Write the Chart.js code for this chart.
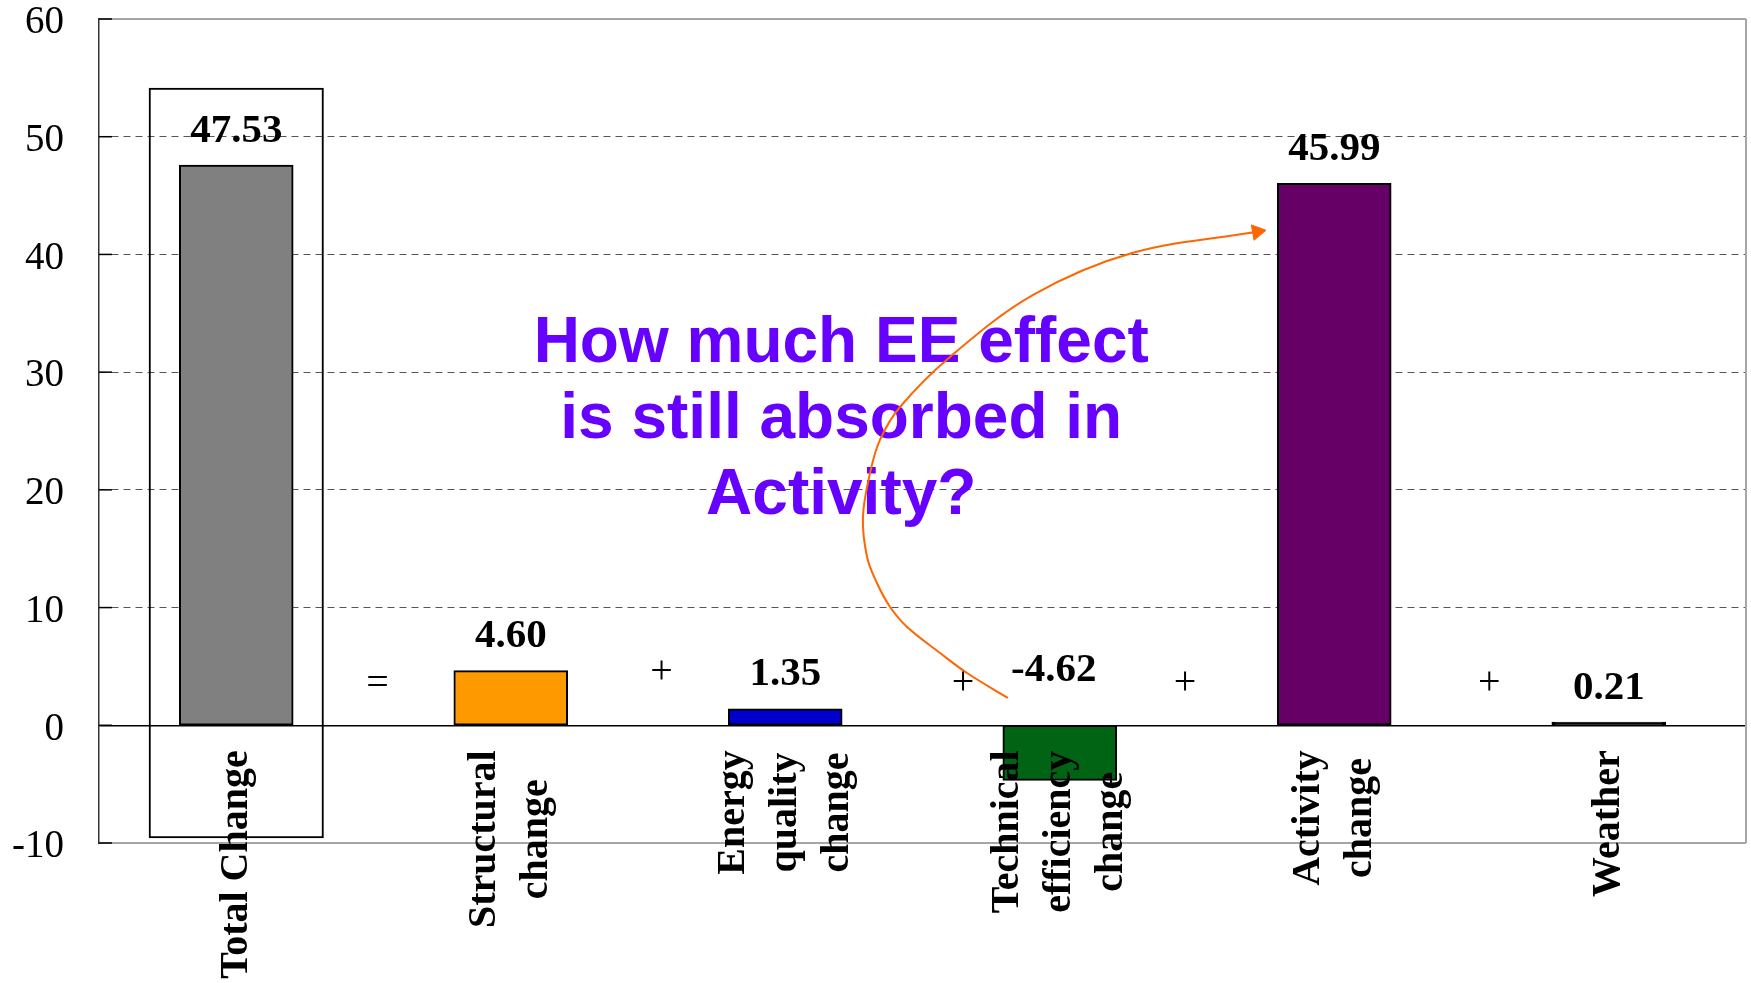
<!DOCTYPE html>
<html>
<head>
<meta charset="utf-8">
<script src="https://cdn.jsdelivr.net/npm/chart.js@4.4.1/dist/chart.umd.min.js"></script>
<style>
  html, body { margin: 0; padding: 0; background: #fff; }
  #wrap { width: 1751px; height: 983px; position: relative; }
</style>
</head>
<body>
<div id="wrap"><canvas id="c" width="1751" height="983"></canvas></div>
<script>
// ---------- data ----------
const categories = [
  ["Total Change"],
  ["Structural", "change"],
  ["Energy", "quality", "change"],
  ["Technical", "efficiency", "change"],
  ["Activity", "change"],
  ["Weather"]
];
const values = [47.53, 4.60, 1.35, -4.62, 45.99, 0.21];
const valueLabels = ["47.53", "4.60", "1.35", "-4.62", "45.99", "0.21"];
const barColors = ["#808080", "#FF9900", "#0000CC", "#006414", "#660066", "#000000"];
// outline box around the total (value range)
const totalBox = [[-9.6, 54.15], null, null, null, null, null];
// operators between the components (category position, value)
const operators = ["=", "+", "+", "+", "+"];
const operatorX = [0.515, 1.549, 2.648, 3.456, 4.565];
const operatorY = [3.44, 4.46, 3.53, 3.53, 3.53];
// annotation
const noteLines = ["How much EE effect", "is still absorbed in", "Activity?"];
const noteAt = [2.204, 30.87];
// orange arrow path (category position, value)
const arrowX = [2.811, 2.662, 2.564, 2.444, 2.382, 2.334, 2.298, 2.283, 2.309, 2.345, 2.418, 2.600, 2.903, 3.267, 3.719];
const arrowY = [2.32, 4.44, 6.14, 8.35, 10.05, 12.09, 14.30, 17.70, 21.44, 24.24, 27.04, 31.29, 36.56, 40.14, 41.92];
const yTicksMin = -10, yTicksMax = 60, yStep = 10;

// ---------- chart ----------
const serif = '"Times New Roman", "Liberation Serif", serif';
const sans = 'Arial, "Liberation Sans", sans-serif';

const overlay = {
  id: 'overlay',
  beforeDatasetsDraw(chart) {
    const { ctx, scales: { xc, y } } = chart;
    ctx.save();
    ctx.font = 'bold 64px ' + sans;
    ctx.fillStyle = '#6600FF';
    ctx.textAlign = 'center';
    ctx.textBaseline = 'alphabetic';
    const ax = xc.getPixelForValue(noteAt[0]);
    const ay = y.getPixelForValue(noteAt[1]);
    noteLines.forEach((t, k) => ctx.fillText(t, ax, ay + k * 76));
    ctx.restore();
  },
  afterDatasetsDraw(chart) {
    const { ctx, chartArea, scales: { x, xc, y } } = chart;
    ctx.save();
    // right border
    ctx.strokeStyle = '#a6a6a6';
    ctx.lineWidth = 2;
    ctx.beginPath();
    ctx.moveTo(chartArea.right, chartArea.top);
    ctx.lineTo(chartArea.right, chartArea.bottom);
    ctx.stroke();
    // inward tick marks on the value axis
    ctx.strokeStyle = '#000';
    ctx.lineWidth = 1.5;
    y.ticks.forEach(t => {
      const py = y.getPixelForValue(t.value);
      ctx.beginPath();
      ctx.moveTo(chartArea.left, py);
      ctx.lineTo(chartArea.left + 13, py);
      ctx.stroke();
    });
    // data labels
    ctx.fillStyle = '#000';
    ctx.font = 'bold 41px ' + serif;
    ctx.textAlign = 'center';
    ctx.textBaseline = 'alphabetic';
    values.forEach((v, i) => {
      const px = x.getPixelForTick(i) - (v < 0 ? 6 : 0);
      const py = y.getPixelForValue(Math.max(v, 0)) - (v < 0 ? 44 : 24);
      ctx.fillText(valueLabels[i], px, py);
    });
    // operators
    ctx.font = '40px ' + serif;
    ctx.textBaseline = 'middle';
    operators.forEach((o, k) => {
      ctx.fillText(o, xc.getPixelForValue(operatorX[k]), y.getPixelForValue(operatorY[k]));
    });
    // category labels (rotated, centred lines, next to the zero line)
    ctx.font = 'bold 40px ' + serif;
    const zeroY = y.getPixelForValue(0);
    categories.forEach((lines, i) => {
      const cx = x.getPixelForTick(i);
      const maxW = Math.max(...lines.map(l => ctx.measureText(l).width));
      const cy = zeroY + 25 + maxW / 2;
      lines.forEach((l, k) => {
        ctx.save();
        ctx.translate(cx + (k - (lines.length - 1) / 2) * 52, cy);
        ctx.rotate(-Math.PI / 2);
        ctx.textAlign = 'center';
        ctx.textBaseline = 'middle';
        ctx.fillText(l, 0, 0);
        ctx.restore();
      });
    });
    ctx.restore();
  }
};

const edge = v => v === yTicksMax || v === yTicksMin;

new Chart(document.getElementById('c'), {
  type: 'bar',
  data: {
    labels: categories.map(c => c.join(' ')),
    datasets: [
      {
        type: 'line',
        data: arrowX.map((v, i) => ({ x: v, y: arrowY[i] })),
        xAxisID: 'xc',
        yAxisID: 'y',
        borderColor: '#FF6600',
        borderWidth: 2,
        tension: 0.35,
        fill: false,
        pointRadius: arrowX.map((v, i) => i === arrowX.length - 1 ? 9 : 0),
        pointStyle: 'triangle',
        rotation: 80,
        pointBackgroundColor: '#FF6600',
        pointBorderColor: '#FF6600',
        pointBorderWidth: 1,
        order: 0
      },
      {
        data: values,
        xAxisID: 'x',
        yAxisID: 'y',
        backgroundColor: barColors,
        borderColor: '#000',
        borderWidth: 2,
        borderSkipped: false,
        inflateAmount: 1,
        grouped: false,
        barPercentage: 0.41,
        categoryPercentage: 1,
        order: 1
      },
      {
        data: totalBox,
        xAxisID: 'x',
        yAxisID: 'y',
        backgroundColor: 'rgba(0,0,0,0)',
        borderColor: '#000',
        borderWidth: 2,
        borderSkipped: false,
        grouped: false,
        barPercentage: 0.638,
        categoryPercentage: 1,
        order: 2
      }
    ]
  },
  options: {
    responsive: false,
    animation: false,
    layout: { autoPadding: false, padding: { top: 19, right: 5, left: 0, bottom: 0 } },
    plugins: { legend: { display: false }, tooltip: { enabled: false } },
    scales: {
      x: {
        type: 'category',
        offset: true,
        grid: { display: false, drawTicks: false },
        border: { display: false },
        ticks: { display: false },
        afterFit: s => { s.height = 140; s.paddingLeft = 0; s.paddingRight = 0; }
      },
      xc: {
        type: 'linear',
        display: false,
        offset: false,
        bounds: 'data',
        grace: 0,
        min: -0.5,
        max: 5.5
      },
      y: {
        min: yTicksMin,
        max: yTicksMax,
        ticks: {
          stepSize: yStep,
          color: '#000',
          padding: 35,
          labelOffset: 4,
          font: { family: serif, size: 39, lineHeight: 1.0 }
        },
        grid: {
          drawTicks: false,
          color: c => c.tick.value === 0 ? '#000' : edge(c.tick.value) ? '#a6a6a6' : '#555',
          lineWidth: c => c.tick.value === 0 ? 1.5 : edge(c.tick.value) ? 2 : 1
        },
        border: {
          color: '#333',
          width: 1.5,
          dash: c => (c.tick && !(c.tick.value === 0 || edge(c.tick.value))) ? [7, 5] : []
        },
        afterFit: s => { s.width = 99; s.paddingTop = 0; s.paddingBottom = 0; }
      }
    }
  },
  plugins: [overlay]
});
</script>
</body>
</html>
